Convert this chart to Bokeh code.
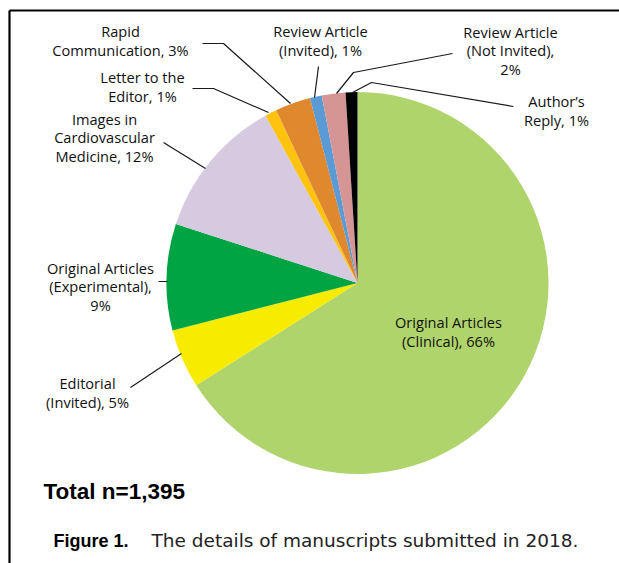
import numpy as np
from bokeh.plotting import figure
from bokeh.models import Range1d, ColumnDataSource
from bokeh.core.properties import value
from bokeh.embed import file_html
from bokeh.resources import INLINE

# ---- data ----
categories = [
    "Original Articles\n(Clinical), 66%",
    "Editorial\n(Invited), 5%",
    "Original Articles\n(Experimental),\n9%",
    "Images in\nCardiovascular\nMedicine, 12%",
    "Letter to the\nEditor, 1%",
    "Rapid\nCommunication, 3%",
    "Review Article\n(Invited), 1%",
    "Review Article\n(Not Invited),\n2%",
    "Author\u2019s\nReply, 1%",
]
percents = [66, 5, 9, 12, 1, 3, 1, 2, 1]
colors = ["#AFD46B", "#F7EB00", "#00A443", "#D6CAE0", "#FFC20E",
          "#E0882E", "#5A9BD5", "#D69595", "#000000"]
total_label = "Total n=1,395"
caption_bold = "Figure 1."
caption_text = "The details of manuscripts submitted in 2018."

W, H = 619, 563


def P(sx, sy):
    """screen pixel of the page -> data coords"""
    return sx, H - sy


p = figure(width=W, height=H, output_backend="svg", toolbar_location=None,
           x_range=Range1d(0, W), y_range=Range1d(0, H), min_border=0)
p.axis.visible = False
p.grid.visible = False
p.outline_line_color = None
p.background_fill_color = "white"

# pie
cx, cy = P(357, 282.5)
R = 191
frac = np.array(percents, dtype=float) / sum(percents)
cum = np.concatenate([[0], np.cumsum(frac)])
start = np.pi / 2 - 2 * np.pi * cum[:-1]
end = np.pi / 2 - 2 * np.pi * cum[1:]
src = ColumnDataSource(dict(start=start, end=end, color=colors, cat=categories))
p.wedge(x=cx, y=cy, radius=R, start_angle="start", end_angle="end",
        direction="clock", fill_color="color", line_color=None, source=src)

# label positions (screen coords of block centre) and leader lines
label_pos = [
    (448, 331), (87, 392), (100, 286), (104, 137), (142, 86),
    (120, 40), (320, 40), (510, 50), (556, 110),
]
leaders = [
    None,
    [(130, 387), (181, 353)],
    [(158, 281), (167, 281)],
    [(163, 142), (205, 168)],
    [(192, 88), (213, 88), (268, 112)],
    [(202, 43), (223, 43), (290, 103)],
    [(318, 66), (314, 97)],
    [(452, 53), (353, 72), (336, 93)],
    [(513, 106), (371, 82), (352, 92)],
]
for ld in leaders:
    if ld is None:
        continue
    xs, ys = zip(*[P(a, b) for a, b in ld])
    p.line(list(xs), list(ys), line_color="#1a1a1a", line_width=1.2)

lx, ly = zip(*[P(a, b) for a, b in label_pos])
p.text(x=list(lx), y=list(ly), text=categories, text_font=value("Open Sans"),
       text_font_size="14.6px", text_align="center", text_baseline="middle",
       text_color="#111111", text_line_height=0.93)

# total
tx, ty = P(43, 491)
p.text(x=[tx], y=[ty], text=[total_label], text_font=value("Liberation Sans"),
       text_font_style="bold", text_font_size="22.5px", text_align="left",
       text_baseline="alphabetic", text_color="black")

# caption
fx, fy = P(53, 540)
p.text(x=[fx], y=[fy], text=[caption_bold], text_font=value("Liberation Sans"),
       text_font_style="bold", text_font_size="18px", text_align="left",
       text_baseline="alphabetic", text_color="black")
gx, gy = P(151, 540)
p.text(x=[gx], y=[gy], text=[caption_text], text_font=value("DejaVu Sans"),
       text_font_size="18.5px", text_align="left",
       text_baseline="alphabetic", text_color="#222222")

# frame lines
bx0, by0 = P(9, 10)
bx1, _ = P(640, 10)
_, by1 = P(9, 600)
p.line([bx0, bx1], [by0, by0], line_color="black", line_width=2.2)
p.line([bx0, bx0], [by0, by1], line_color="black", line_width=2.2)

open("out.html", "w").write(file_html(p, INLINE))
